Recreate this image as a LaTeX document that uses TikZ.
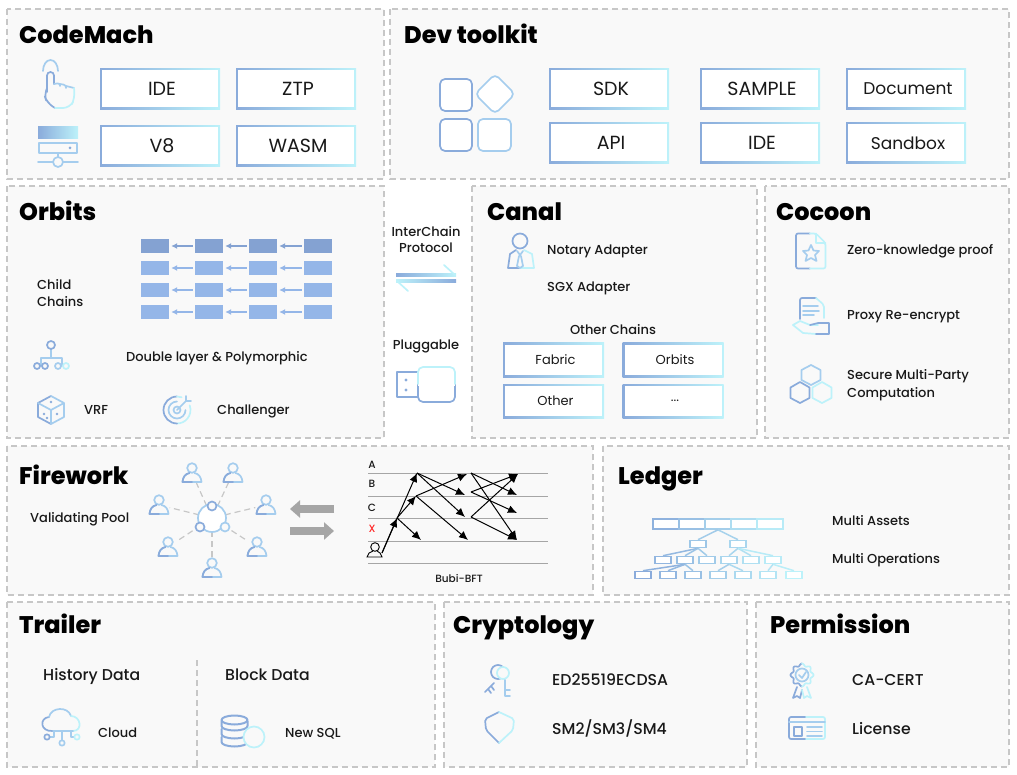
\documentclass[tikz,border=0pt]{standalone}
\usepackage{fontspec}
\setmainfont{Poppins Medium}[BoldFont={Poppins ExtraBold}]
\newfontfamily\boxfont{Poppins}
\usetikzlibrary{arrows.meta}
\definecolor{gradL}{HTML}{8AABDB}
\definecolor{gradM}{HTML}{A5CDEE}
\definecolor{gradR}{HTML}{BDF2FA}
\definecolor{chainA}{HTML}{84A2D2}
\definecolor{chainB}{HTML}{94B6E8}
\tikzset{
  panel/.style={draw=black!22,fill=black!2.5,line width=1.4pt,dash pattern=on 6pt off 4pt},
  title/.style={anchor=base west,inner sep=0pt,font=\fontsize{24}{28}\selectfont\bfseries},
  lbl/.style={anchor=west,inner sep=0pt,yshift=-2pt,text height=9pt,text depth=3pt,text=black!90,font=\fontsize{13}{16}\selectfont},
  lblc/.style={lbl,anchor=center},
  lblb/.style={lbl,font=\fontsize{15.7}{18}\selectfont},
  gbox/.style={minimum width=#1,minimum height=41pt,inner sep=0pt,left color=gradL,right color=gradR,
    font=\boxfont\fontsize{19}{22}\selectfont,text=black!90,execute at begin node={\hskip 4pt},
    path picture={\fill[white] ([shift={(2pt,2pt)}]path picture bounding box.south west)
      rectangle ([shift={(-2pt,-2pt)}]path picture bounding box.north east);}},
  gsmall/.style={gbox=101pt,minimum height=34pt,execute at begin node={},font=\boxfont\fontsize{13}{16}\selectfont},
  icoa/.style={draw=gradL,line width=1.7pt,line join=round,line cap=round},
  icob/.style={draw=gradM,line width=1.7pt,line join=round,line cap=round},
  icoc/.style={draw=gradR,line width=1.7pt,line join=round,line cap=round},
  block/.style={minimum width=28pt,minimum height=14pt,inner sep=0pt,fill=#1},
  link/.style={draw=#1,line width=1.2pt,-{Latex[length=6pt,width=6pt]},shorten >=2pt,shorten <=2pt},
  fat/.style={draw=black!35,line width=8pt,-{Triangle[length=10pt,width=17pt]}},
  msg/.style={black,line width=1pt,-{Latex[length=9pt,width=8pt]}},
  leaf/.style={draw=gradR!#1!gradL,line width=1.6pt,fill=white,minimum width=16pt,minimum height=7pt,inner sep=0pt},
  person/.pic={
    \draw[icob] (0,-5) circle (4.8);
    \draw[icob] (-2.5,0) .. controls (-7,1) and (-9,4) .. (-9.5,9) -- (9.5,9) .. controls (9,4) and (7,1) .. (2.5,0);
    \draw[icoa] (-2.5,0) .. controls (-7,1) and (-9,4) .. (-9.5,9) -- (0,9);
  }
}
\begin{document}
\begin{tikzpicture}[x=1pt,y=-1pt]
\useasboundingbox (0,0) rectangle (1017,775);
% panels
\foreach \xa/\ya/\xb/\yb in {7/9/384/179,390/9/1009/179,7/186/384/438,472/186/757/438,765/186/1009/438,
  7/446/593/595,603/446/1009/595,7/602/435/767,444/602/747/767,756/602/1009/767}
  \draw[panel] (\xa,\ya) rectangle (\xb,\yb);
\draw[draw=black!22,line width=1.2pt,dash pattern=on 6pt off 4pt] (197,660)--(197,767);
% titles
\node[title] (codemach) at (19,44) {CodeMach};
\node[title] (devkit) at (404,44) {Dev toolkit};
\node[title] (orbits) at (19,221) {Orbits};
\node[title] (canal) at (487,221) {Canal};
\node[title] (cocoon) at (776,221) {Cocoon};
\node[title] (firework) at (19,484) {Firework};
\node[title] (ledger) at (618,484) {Ledger};
\node[title] (trailer) at (19,633) {Trailer};
\node[title] (crypto) at (453,633) {Cryptology};
\node[title] (perm) at (770,633) {Permission};
% codemach
\node[gbox=120pt] (ide) at (160,89) {IDE};
\node[gbox=120pt] (ztp) at (296,89) {ZTP};
\node[gbox=120pt] (veight) at (160,146) {V8};
\node[gbox=120pt] (wasm) at (296,146) {WASM};
\draw[icob] (43,71) arc (180:360:7.5 and 11);
\draw[icoa,rounded corners=3.5] (47,92)--(47,72)--(54,72)--(54,84);
\draw[icob,rounded corners=2.5] (54,84)--(60,83)--(60,86) (60,84)--(66,85)--(66,88) (66,86)--(74,88);
\draw[icoa,rounded corners=7] (47,88)--(44,94)--(47,103)--(55,108);
\draw[icoc,rounded corners=7] (55,108)--(70,108)--(75,98)--(74,88);
\shade[left color=gradL,right color=gradR] (38,127) rectangle (78,139);
\draw[icob] (39,143) rectangle (77,153);
\fill[gradL] (70,148) circle (1.5);
\draw[icob] (38,162)--(78,162) (58,153)--(58,157);
\draw[icob,fill=black!2.5] (58,162) circle (5);
% dev toolkit
\node[gbox=120pt] (sdk) at (609,89) {SDK};
\node[gbox=120pt] (sample) at (760,89) {SAMPLE};
\node[gbox=120pt,font=\boxfont\fontsize{17}{20}\selectfont] (document) at (906,89) {Document};
\node[gbox=120pt] (api) at (609,143) {API};
\node[gbox=120pt] (idetwo) at (760,143) {IDE};
\node[gbox=120pt,font=\boxfont\fontsize{17}{20}\selectfont] (sandbox) at (906,143) {Sandbox};
\draw[icoa,fill=white,rounded corners=5] (440,79) rectangle (472,111);
\draw[icob,fill=white,rounded corners=5] (495,74)--(515,94)--(495,114)--(475,94)--cycle;
\draw[icoa,fill=white,rounded corners=5] (440,119) rectangle (472,151);
\draw[icob,fill=white,rounded corners=5] (478,119) rectangle (511,151);
% child chains
\node[lbl,yshift=-1pt] (child) at (37,284) {Child};
\node[lbl,yshift=-1pt] (chains) at (37,301) {Chains};
\foreach \r/\y/\c in {1/246/chainA,2/268/chainB,3/290/chainB,4/312/chainB}{
  \foreach \k/\x in {1/155,2/209,3/263,4/318}
    \node[block=\c] (b\r\k) at (\x,\y) {};
  \draw[link=\c] (b\r2)--(b\r1);
  \draw[link=\c] (b\r3)--(b\r2);
  \draw[link=\c] (b\r4)--(b\r3);
}
\node[lbl] (double) at (126,357) {Double layer \& Polymorphic};
\node[lbl] (vrf) at (84,409) {VRF};
\node[lbl] (challenger) at (217,409) {Challenger};
\draw[icob] (51,349)--(51,358) (41,366)--(41,358)--(62,358)--(62,366);
\draw[icoa] (51,345) circle (4);
\draw[icoa] (37,366) circle (3);
\draw[icoa] (45,366) circle (3);
\draw[icob] (58,366) circle (3);
\draw[icoc] (66,366) circle (3);
\draw[icoa] (51,396)--(38,403)--(38,417)--(51,424);
\draw[icob] (51,396)--(64,403)--(64,417)--(51,424)--(51,410)--(38,403) (51,410)--(64,403);
\fill[gradL] (51,402) circle (1.3) (44,414) circle (1.3) (47,418) circle (1.3) (57,414) circle (1.3);
\draw[icoc] (189.7,405.4) arc (-20:90:13.5);
\draw[icoa] (177,423.5) arc (90:270:13.5);
\draw[icoc] (177,396.5) arc (270:290:13.5);
\draw[icob] (185.5,410) arc (0:270:8.5);
\draw[icob] (177,410) circle (3.5);
\draw[icob] (177,410)--(186,401) (186,401)--(186,396) (186,401)--(191,401);
% interchain
\node[lblc] (inter) at (426,232) {InterChain};
\node[lblc] (protocol) at (426,248) {Protocol};
\node[lblc] (pluggable) at (426,345) {Pluggable};
\shade[left color=gradL,right color=gradR] (396,273.5) rectangle (456,276.5);
\shade[left color=gradR,right color=gradL] (396,279.5) rectangle (456,282.5);
\draw[icoc] (444,265)--(455,275) (397,281)--(408,291);
\draw[icoa,fill=white] (397,372) rectangle (418,397);
\fill[gradL] (406,380) circle (1.7) (406,390) circle (1.7);
\draw[icoa,fill=white,rounded corners=5] (455,384)--(455,402)--(418,402)--(418,384);
\fill[white] (418,367) rectangle (455,386);
\draw[icoc,rounded corners=5] (418,384)--(418,367)--(455,367)--(455,384);
% canal
\node[lbl] (notary) at (547,250) {Notary Adapter};
\node[lbl] (sgx) at (547,287) {SGX Adapter};
\node[lblc] (otherchains) at (613,330) {Other Chains};
\node[gsmall] (fabric) at (553.5,360) {Fabric};
\node[gsmall] (orbitsbox) at (673,360) {Orbits};
\node[gsmall] (other) at (553.5,401) {Other};
\node[gsmall] (dots) at (673,401) {...};
\draw[icoa] (520,241) circle (7.5);
\draw[icoa] (516,250)--(510,254)--(508,268)--(520,268);
\draw[icoc] (520,268)--(534,268)--(532,254)--(524,250);
\draw[icob] (517,251)--(520,255)--(523,251) (519,256)--(517,266)--(520,268)--(523,266)--(521,256);
% cocoon
\node[lbl] (zero) at (847,250) {Zero-knowledge proof};
\node[lbl] (proxy) at (847,315) {Proxy Re-encrypt};
\node[lbl] (secure) at (847,375) {Secure Multi-Party};
\node[lbl] (compute) at (847,392) {Computation};
\draw[icoa,rounded corners=2] (810,233.5)--(796,233.5)--(796,268.5)--(810,268.5);
\draw[icoc,rounded corners=2] (810,268.5)--(825.5,268.5)--(825.5,243)--(816,233.5)--(810,233.5);
\draw[icoc] (816,233.5)--(816,243)--(825.5,243);
\draw[icob] (811,245)--(813.5,250.5)--(819,251)--(815,255)--(816.5,261)--(811,258)--(805.5,261)--(807,255)--(803,251)--(808.5,250.5)--cycle;
\draw[icoa,rounded corners=2] (800,319)--(800,298)--(816,298);
\draw[icoc,rounded corners=2] (816,298)--(824,305)--(824,318);
\draw[icob] (803,306)--(818,306) (803,311)--(819,311) (803,315)--(814,315);
\draw[icoc] (793,325)--(800,321)--(810,325)--(818,325);
\draw[icoc] (793,325)--(803,333)--(816,334);
\draw[icoa] (816,334)--(829,334)--(829,323)--(818,323)--(810,325);
\draw[icob] (811,365)--(820.5,370)--(820.5,380)--(811,385)--(801.5,380)--(801.5,370)--cycle;
\draw[icoa] (800,382)--(809.5,387.5)--(809.5,398)--(800,403)--(790.5,398)--(790.5,387.5)--cycle;
\draw[icoc] (822,382)--(831.5,387.5)--(831.5,398)--(822,403)--(812.5,398)--(812.5,387.5)--cycle;
% firework
\node[lbl] (pool) at (30,517) {Validating Pool};
\node[inner sep=0pt,minimum size=26pt,circle] (hub) at (212,518) {};
\foreach \n/\x/\y in {1/192/473,2/233/473,3/159/505,4/266/505,5/168/547,6/257/547,7/212/568}{
  \coordinate (u\n) at (\x,\y);
  \draw[draw=black!22,line width=1.2pt,dash pattern=on 6pt off 4pt,shorten >=11pt] (hub)--(u\n);
  \pic at (u\n) {person};
}
\draw[icob,fill=white] (212,518) circle (14);
\draw[icoa,fill=black!2] (212,506) circle (4.5);
\draw[icoa,fill=black!2] (200,527) circle (4.5);
\draw[icob,fill=black!2] (225,527) circle (4.5);
\coordinate (fa) at (334,509); \coordinate (fb) at (290,509);
\coordinate (fc) at (290,531); \coordinate (fd) at (334,531);
\draw[fat] (fa)--(fb);
\draw[fat] (fc)--(fd);
% bubi-bft
\foreach \y in {473,496,518,541,563}
  \draw[black!35,line width=1pt] (368,\y)--(548,\y);
\node[lblc,font=\fontsize{10.5}{12}\selectfont] (a) at (372,463) {A};
\node[lblc,font=\fontsize{10.5}{12}\selectfont] (b) at (372,482) {B};
\node[lblc,font=\fontsize{10.5}{12}\selectfont] (c) at (372,506) {C};
\node[lblc,font=\fontsize{10.5}{12}\selectfont,text=red!85] (x) at (372,527) {X};
\node[lblc,font=\fontsize{10.5}{12}\selectfont] (bubi) at (459,577) {Bubi-BFT};
\draw[black,line width=0.9pt] (375,547) circle (4.3);
\draw[black,line width=0.9pt] (373,551)--(369,553)--(367,557)--(382,557)--(380,553)--(377,551);
\coordinate (s) at (382,553); \coordinate (s1) at (397,518);
\coordinate (t1) at (417,473); \coordinate (t2) at (416,496); \coordinate (t3) at (421,540);
\coordinate (t4) at (465,495); \coordinate (t5) at (465,517); \coordinate (t6) at (467,474); \coordinate (t7) at (468,540);
\coordinate (r1) at (471,473); \coordinate (r2) at (471,492); \coordinate (r3) at (471,517);
\coordinate (e1) at (518,474); \coordinate (e2) at (517,495); \coordinate (e3) at (517,513); \coordinate (e4) at (517,540);
\draw[msg] (s)--(t1);
\draw[msg] (s)--(s1);
\draw[msg] (s1)--(t2);
\draw[msg] (s1)--(t3);
\draw[msg] (t1)--(t4);
\draw[msg] (t1)--(t5);
\draw[msg] (t2)--(t6);
\draw[msg] (t2)--(t7);
\draw[msg] (r1)--(e2);
\draw[msg] (r1)--(e4);
\draw[msg] (r2)--(e1);
\draw[msg] (r2)--(e3);
\draw[msg] (r3)--(e1);
\draw[msg] (r3)--(e4);
% ledger
\node[lbl] (assets) at (832,520) {Multi Assets};
\node[lbl] (operations) at (832,558) {Multi Operations};
\foreach \n/\x/\m in {1/666/10,2/692/30,3/718/50,4/744/70,5/770/90}
  \node[leaf=\m,minimum width=26pt,minimum height=10pt] (top\n) at (\x,524) {};
\foreach \n/\x/\m in {1/698/40,2/738/60}
  \node[leaf=\m] (mid\n) at (\x,544) {};
\foreach \n/\x/\m in {1/663/15,2/685/30,3/707/45,4/729/60,5/751/75,6/773/90}
  \node[leaf=\m] (low\n) at (\x,560) {};
\foreach \n/\x/\m in {1/643/0,2/668/15,3/693/30,4/718/50,5/743/65,6/768/80,7/794/100}
  \node[leaf=\m] (end\n) at (\x,575) {};
\foreach \p/\q/\m in {top3/mid1/45,top3/mid2/55,mid1/low1/20,mid1/low2/35,mid1/low3/45,
  mid2/low4/60,mid2/low5/75,mid2/low6/90,low2/end1/10,low2/end2/20,low2/end3/35,
  low4/end4/50,low4/end5/65,low6/end6/80,low6/end7/95}
  \draw[draw=gradR!\m!gradL,line width=1.5pt] (\p.south)--(\q.north);
% trailer
\node[lblb] (history) at (43,675) {History Data};
\node[lblb] (blockdata) at (225,675) {Block Data};
\node[lbl] (cloud) at (98,732) {Cloud};
\node[lbl] (newsql) at (285,732) {New SQL};
\draw[icoa] (53,731) .. controls (40,732) and (39,718) .. (49,717);
\draw[icob] (49,717) .. controls (51,707) and (68,706) .. (71,716);
\draw[icoc] (71,716) .. controls (81,716) and (83,731) .. (73,731);
\draw[icob] (53,731)--(73,731);
\draw[icob] (62,731)--(62,740) (54,731)--(54,737)--(50,737) (71,731)--(71,737)--(74,737);
\draw[icoa] (47,737) circle (2.7);
\draw[icob] (62,743) circle (2.7);
\draw[icoc] (77,737) circle (2.7);
\foreach \y in {721,729,737}
  \draw[icoa,line width=2pt] (221.5,\y)--(221.5,\y+5) arc (180:0:13 and 4.5)--(247.5,\y);
\draw[icoa,line width=2pt] (234.5,720) ellipse (13 and 4.5);
\draw[icoc,fill=black!2.5] (254,737) circle (10.5);
% cryptology
\node[lblb] (ed) at (552,680) {ED25519ECDSA};
\node[lblb] (sm) at (552,729) {SM2/SM3/SM4};
\draw[icoa] (498,672) circle (7);
\draw[icoa] (494,683)--(485,692) (488,689)--(491,693) (491,686)--(494,690);
\draw[icoc,fill=black!2.5] (503,673) circle (6);
\draw[icob] (505,680)--(505,696)--(510,696) (505,690)--(510,690);
\draw[icoa,rounded corners=2] (499,712)--(485,719)--(486,730)--(499,743);
\draw[icoc,rounded corners=2] (499,712)--(514,719)--(513,730)--(499,743);
% permission
\node[lblb] (cacert) at (852,680) {CA-CERT};
\node[lblb] (license) at (852,729) {License};
\draw[icoa,domain=90:270,samples=60,smooth] plot ({802+(10.3+1.2*cos(8*\x))*cos(\x)},{675+(10.3+1.2*cos(8*\x))*sin(\x)});
\draw[icoc,domain=-90:90,samples=60,smooth] plot ({802+(10.3+1.2*cos(8*\x))*cos(\x)},{675+(10.3+1.2*cos(8*\x))*sin(\x)});
\draw[icob] (802,675) circle (6.5);
\draw[icob] (799,675)--(802,678)--(806,672);
\draw[icoa] (797,687)--(793,698)--(797,696)--(800,698)--(802,690);
\draw[icoc] (807,687)--(811,698)--(807,696)--(804,698)--(802,690);
\draw[icoa,rounded corners=2] (806,717)--(789,717)--(789,739)--(806,739);
\draw[icoc,rounded corners=2] (806,717)--(825,717)--(825,739)--(806,739);
\draw[icob] (789,722)--(825,722);
\draw[icoa] (794,727) rectangle (802,736);
\draw[icob] (807,727)--(822,727) (807,731.5)--(822,731.5) (807,736)--(822,736);
\end{tikzpicture}
\end{document}
